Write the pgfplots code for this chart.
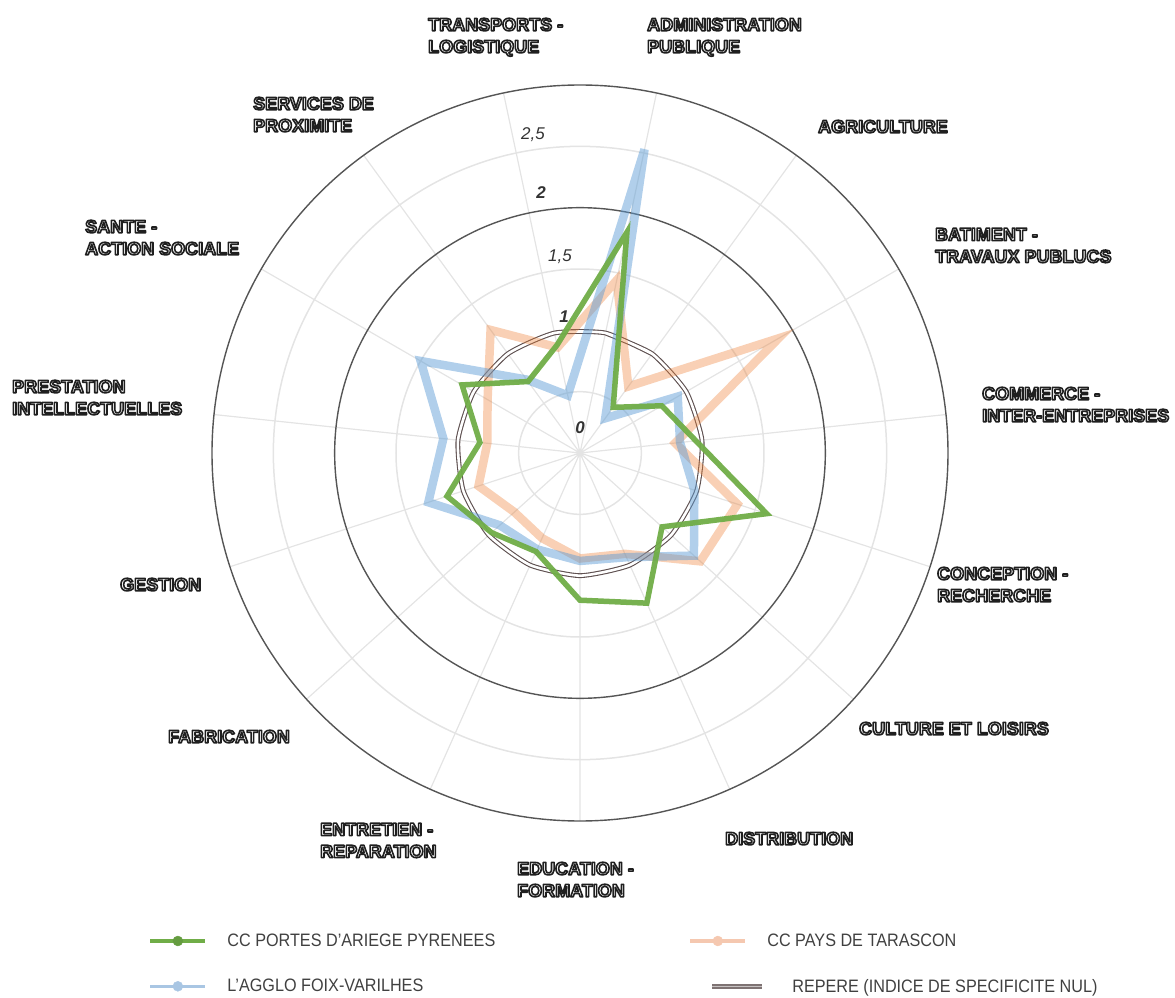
\documentclass[border=0pt]{standalone}
\usepackage{pgfplots}
\pgfplotsset{compat=1.18}
\usepackage{pgfplotstable}
\usepgfplotslibrary{polar}
\usetikzlibrary{calc}
\usepackage{fontspec}
\setmainfont{Liberation Sans}
\newfontfamily\legfont[FakeStretch=0.9]{Liberation Sans}

\definecolor{greenc}{HTML}{70AD47}
\definecolor{bluec}{HTML}{5B9BD5}
\definecolor{salmc}{HTML}{ED7D31}
\definecolor{bluel}{HTML}{A9C6E3}
\definecolor{salml}{HTML}{F5C8B0}
\definecolor{repc}{HTML}{5E5050}
\definecolor{ringc}{HTML}{555555}
\definecolor{gridc}{HTML}{E4E4E4}
\definecolor{labc}{HTML}{333333}
\definecolor{legtext}{HTML}{404040}

% indices de specificite par fonction (angle en degres, sens trigo)
\pgfplotstableread{
angle portes agglo tarascon
78  1.84 2.53 1.44
54  0.46 0.35 0.67
30  0.77 0.92 1.87
6   0.95 0.82 0.78
342 1.60 0.98 1.35
318 0.90 1.25 1.32
294 1.34 0.93 0.90
270 1.20 0.88 0.86
246 0.88 0.86 0.76
222 0.97 0.88 0.72
198 1.14 1.30 0.87
174 0.82 1.12 0.76
150 1.11 1.50 0.87
126 0.72 0.74 1.24
102 0.90 0.48 0.88
}\specif

% lettres blanches cernees (mode de rendu 2 : remplissage + contour)
\newcommand{\lab}[1]{\special{pdf:literal direct 2 Tr 1.6 w 1 j 0.12 G}#1\special{pdf:literal direct 0 Tr}}

\begin{document}
\begin{tikzpicture}
\begin{polaraxis}[
  width=736pt, height=736pt, scale only axis,
  xmin=0, xmax=360, ymin=0, ymax=3,
  xtick={6,30,...,342}, xticklabels={},
  ytick={2,3}, yticklabels={},
  minor ytick={0.5,1.5,2.5},
  grid=both,
  major x grid style={draw=gridc, line width=1.2pt},
  major y grid style={draw=ringc, line width=1.4pt},
  minor y grid style={draw=gridc, line width=1.5pt},
  axis line style={draw=none},
  tick style={draw=none},
  legend columns=2,
  legend cell align=left,
  legend style={at={(-0.084,-0.1505)}, anchor=north west, draw=none, fill=none,
    font=\legfont\fontsize{18}{18}\selectfont, text=legtext,
    row sep=27pt, inner sep=0pt,
    /tikz/every odd column/.append style={column sep=20pt},
    /tikz/every even column/.append style={column sep=193pt}},
]
% repere : indice 1
\addplot[forget plot, draw=repc, line width=1.1pt, double=white, double distance=2.6pt,
  smooth, tension=0.345] coordinates {
  (78,1) (54,1) (30,1) (6,1) (342,1) (318,1) (294,1) (270,1) (246,1) (222,1)
  (198,1) (174,1) (150,1) (126,1) (102,1) (78,1) (54,1)};
\addplot[forget plot, draw=salmc, draw opacity=0.36, line width=8.5pt]
  table[x=angle, y=tarascon] {\specif} -- cycle;
\addplot[forget plot, draw=bluec, draw opacity=0.48, line width=8.5pt]
  table[x=angle, y=agglo] {\specif} -- cycle;
\addplot[forget plot, draw=greenc, draw opacity=0.95, line width=5.5pt]
  table[x=angle, y=portes] {\specif} -- cycle;
\coordinate (C) at (axis cs:0,0);

\addlegendimage{legend image code/.code={
  \path[use as bounding box, draw=none] (0pt,-5pt) rectangle (55pt,5pt);
  \draw[greenc, line width=3.5pt] (0pt,0pt) -- (55pt,0pt);
  \fill[greenc!90!black] (27.5pt,0pt) circle (5pt);}}
\addlegendentry{CC PORTES D’ARIEGE PYRENEES}
\addlegendimage{legend image code/.code={
  \path[use as bounding box, draw=none] (0pt,-5pt) rectangle (55pt,5pt);
  \draw[salml, line width=3.5pt] (0pt,0pt) -- (55pt,0pt);
  \fill[salml] (27.5pt,0pt) circle (5pt);}}
\addlegendentry{CC PAYS DE TARASCON}
\addlegendimage{legend image code/.code={
  \path[use as bounding box, draw=none] (0pt,-5pt) rectangle (55pt,5pt);
  \draw[bluel, line width=3.5pt] (0pt,0pt) -- (55pt,0pt);
  \fill[bluel] (27.5pt,0pt) circle (5pt);}}
\addlegendentry{L’AGGLO FOIX-VARILHES}
\addlegendimage{legend image code/.code={
  \path[use as bounding box, draw=none] (0pt,-5pt) rectangle (55pt,5pt);
  \draw[draw=repc!80, line width=1.7pt, double=repc!35, double distance=1.6pt] (22pt,0pt) -- (72pt,0pt);}}
\addlegendentry{\hspace*{25pt}REPERE (INDICE DE SPECIFICITE NUL)}
\end{polaraxis}

\pgfresetboundingbox
\path[use as bounding box] ($(C)+(-580pt,453pt)$) rectangle ($(C)+(595pt,-545pt)$);

\begin{scope}[shift={($(C)+(-580pt,453pt)$)}, x=1pt, y=-1pt]
  \tikzset{cat/.style={anchor=north west, inner sep=0pt, align=left, text=white,
    font=\fontsize{18}{22}\selectfont\bfseries}}
  \node[cat] at (428,18)  {\lab{TRANSPORTS -}\\\lab{LOGISTIQUE}};
  \node[cat] at (647,18)  {\lab{ADMINISTRATION}\\\lab{PUBLIQUE}};
  \node[cat] at (818,120) {\lab{AGRICULTURE}};
  \node[cat] at (935,228) {\lab{BATIMENT -}\\\lab{TRAVAUX PUBLUCS}};
  \node[cat] at (982,387) {\lab{COMMERCE -}\\\lab{INTER-ENTREPRISES}};
  \node[cat] at (937,567) {\lab{CONCEPTION -}\\\lab{RECHERCHE}};
  \node[cat] at (859,722) {\lab{CULTURE ET LOISIRS}};
  \node[cat] at (725,832) {\lab{DISTRIBUTION}};
  \node[cat] at (517,862) {\lab{EDUCATION -}\\\lab{FORMATION}};
  \node[cat] at (320,823) {\lab{ENTRETIEN -}\\\lab{REPARATION}};
  \node[cat] at (168,730) {\lab{FABRICATION}};
  \node[cat] at (120,578) {\lab{GESTION}};
  \node[cat] at (12,380)  {\lab{PRESTATION}\\\lab{INTELLECTUELLES}};
  \node[cat] at (85,220)  {\lab{SANTE -}\\\lab{ACTION SOCIALE}};
  \node[cat] at (253,97)  {\lab{SERVICES DE}\\\lab{PROXIMITE}};

  \tikzset{val/.style={inner sep=0pt, text=labc, font=\fontsize{17}{17}\selectfont\itshape}}
  \node[val, font=\fontsize{17}{17}\selectfont\bfseries\itshape] at (580,428) {0};
  \node[val, font=\fontsize{17}{17}\selectfont\bfseries\itshape] at (564,317) {1};
  \node[val] at (560,257) {1,5};
  \node[val, font=\fontsize{17}{17}\selectfont\bfseries\itshape] at (541,193) {2};
  \node[val] at (533,135) {2,5};
\end{scope}
\end{tikzpicture}
\end{document}
